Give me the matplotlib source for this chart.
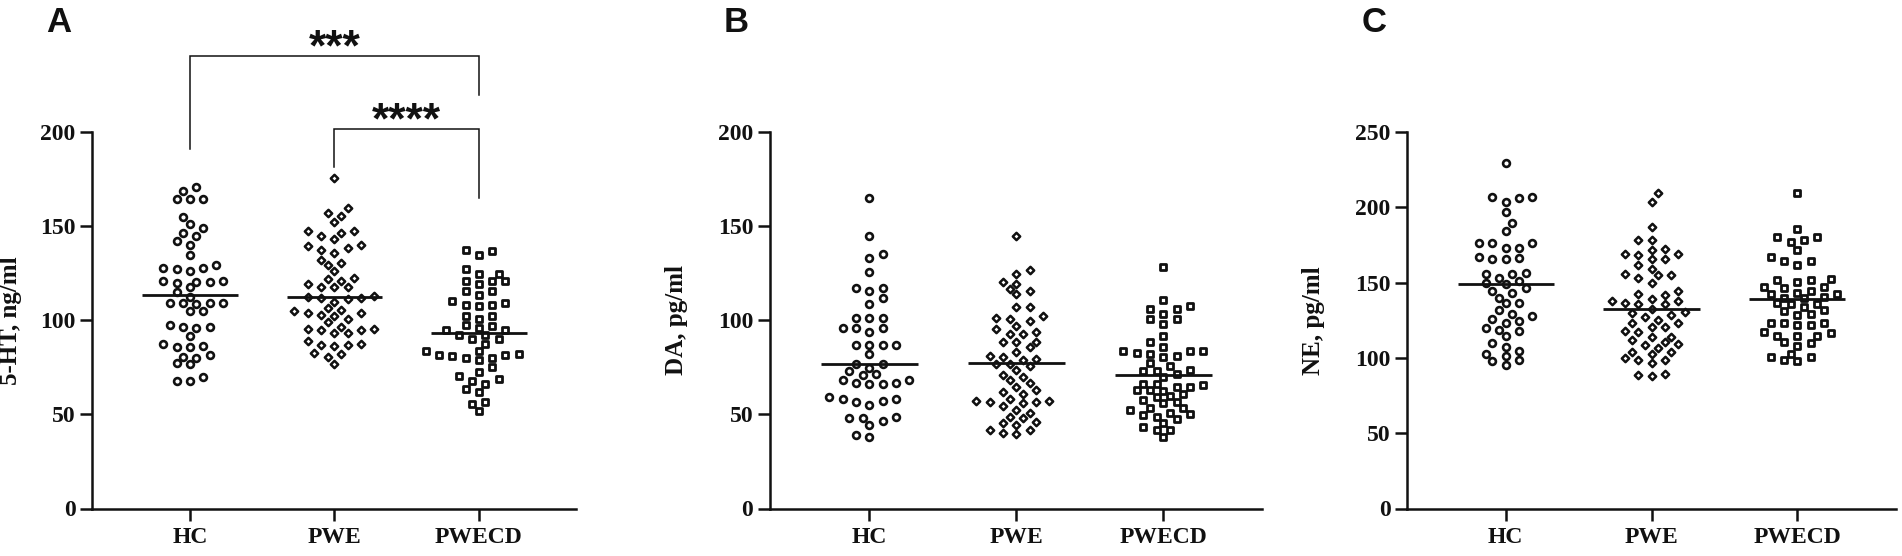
import matplotlib
matplotlib.use("Agg")
import matplotlib.pyplot as plt
import numpy as np

# ---------------- data ----------------
categories = ["HC", "PWE", "PWECD"]

ht5_hc = [170.9, 168.8, 164.6, 164.3, 164.6, 155.0, 151.3, 148.8, 146.4, 144.6, 142.3, 140.2,
          134.8, 127.7, 127.3, 126.3, 127.7, 129.5, 120.9, 120.0, 120.5, 120.5, 117.5, 120.9,
          114.8, 112.5, 108.6, 109.3, 108.9, 109.3, 109.3, 105.0, 105.0, 96.4, 97.3, 95.9, 96.3,
          91.4, 85.7, 87.5, 86.1, 85.7, 80.4, 81.3, 80.0, 77.3, 76.8, 67.5, 70.0, 67.9]
ht5_pwe = [175.5, 159.5, 155.4, 157.1, 152.3, 147.3, 146.4, 147.3, 144.6, 142.9, 140.2, 138.4,
           139.3, 137.5, 135.7, 132.1, 130.4, 129.1, 125.9, 121.8, 120.9, 122.3, 119.1, 117.5,
           117.9, 117.5, 112.0, 111.5, 113.0, 111.8, 112.6, 109.5, 102.3, 103.6, 103.6, 104.8,
           105.4, 106.6, 100.9, 102.7, 95.5, 93.4, 95.0, 96.4, 93.2, 95.0, 95.5, 99.1, 86.6, 87.0,
           86.3, 87.5, 88.9, 82.7, 82.1, 80.4, 76.8]
ht5_pwecd = [137.5, 134.8, 137.0, 127.3, 124.5, 124.5, 120.9, 120.9, 120.9, 119.1, 115.5, 115.5,
             113.4, 108.9, 107.7, 108.0, 108.0, 110.2, 102.3, 102.3, 100.5, 97.3, 95.9, 96.9,
             94.7, 92.3, 94.7, 92.0, 90.2, 90.2, 87.5, 83.4, 83.4, 81.4, 81.4, 79.7, 79.7, 78.8,
             80.9, 81.9, 75.0, 72.7, 68.8, 70.5, 66.0, 67.9, 63.4, 62.0, 56.6, 55.4, 51.9]

da_hc = [165.1, 144.9, 133.3, 135.1, 125.4, 117.2, 117.2, 115.8, 111.6, 108.8, 101.1, 101.1,
         101.4, 96.1, 93.5, 95.8, 96.1, 87.0, 87.0, 87.0, 87.0, 82.1, 76.8, 76.8, 74.6, 73.0,
         71.6, 70.7, 66.3, 66.8, 68.4, 66.8, 68.1, 66.3, 58.1, 56.7, 59.3, 54.9, 57.2, 58.1,
         46.7, 48.4, 44.4, 48.2, 48.2, 38.2, 38.8]
da_pwe = [144.9, 126.5, 124.7, 120.2, 116.6, 119.5, 115.4, 113.7, 107.0, 107.0, 102.3, 101.4,
          99.6, 100.5, 95.3, 97.0, 93.5, 92.9, 92.6, 88.7, 88.2, 85.6, 88.2, 82.9, 81.2, 80.7,
          79.5, 78.9, 76.8, 76.8, 75.5, 73.7, 69.8, 71.0, 64.5, 66.6, 68.1, 62.8, 61.9, 60.7,
          58.4, 54.4, 56.6, 57.2, 56.6, 57.2, 55.8, 52.3, 50.8, 48.7, 47.9, 44.4, 39.6, 41.7,
          45.3, 40.3, 46.1, 41.7]
da_pwecd = [128.1, 111.0, 107.5, 103.1, 98.2, 105.8, 100.8, 105.8, 100.8, 91.4, 88.2, 83.5,
            83.5, 85.9, 80.3, 81.2, 77.2, 82.1, 82.5, 83.5, 73.7, 73.3, 75.9, 71.6, 73.3, 69.8,
            66.3, 64.5, 60.7, 56.6, 53.2, 50.2, 62.8, 59.3, 55.8, 52.3, 48.7, 45.3, 41.7, 38.2,
            65.9, 62.5, 49.6, 43.5, 65.4, 57.5, 53.2, 47.4, 41.7, 64.5, 59.6, 50.6, 63.2]

ne_hc = [229.5, 206.7, 203.4, 207.1, 206.0, 196.6, 189.5, 184.0, 176.3, 173.0, 173.0, 176.3,
         176.3, 166.4, 166.0, 166.0, 167.1, 153.2, 155.9, 151.0, 156.5, 155.4, 148.8, 146.6,
         149.9, 140.0, 143.3, 144.4, 136.7, 136.3, 131.9, 127.9, 125.7, 124.6, 129.0, 123.5,
         118.7, 119.8, 117.6, 114.8, 109.9, 107.5, 101.5, 95.4, 97.8, 102.7, 98.3, 104.4]
ne_pwe = [209.3, 203.8, 186.9, 178.1, 178.5, 172.6, 171.9, 169.1, 168.2, 169.1, 165.8, 165.8,
          162.0, 158.7, 155.0, 152.8, 155.0, 155.4, 149.9, 144.4, 141.8, 142.2, 136.1, 136.7,
          137.8, 138.9, 136.1, 137.8, 128.4, 122.9, 117.4, 112.1, 106.6, 99.9, 132.8, 127.3,
          120.2, 114.1, 108.8, 102.6, 96.5, 130.8, 125.3, 120.2, 114.1, 109.2, 103.7, 98.7,
          130.1, 122.9, 117.6, 110.3, 103.7, 98.7, 87.7, 89.5, 88.4]
ne_pwecd = [209.8, 185.8, 180.3, 180.3, 177.0, 178.1, 171.9, 164.2, 164.2, 161.6, 167.1, 152.6,
            151.5, 151.5, 150.6, 147.3, 147.3, 146.6, 143.3, 142.2, 144.4, 140.0, 139.6, 142.2,
            140.5, 136.3, 136.1, 136.1, 131.7, 131.2, 133.9, 129.0, 128.4, 123.5, 122.0, 122.0,
            123.5, 123.5, 116.3, 116.9, 114.7, 114.7, 109.7, 108.1, 110.3, 114.7, 102.7, 97.8,
            100.4, 98.9, 100.4]

ht5_center = [113.4, 112.5, 93.4]
da_center = [76.6, 77.2, 71.0]
ne_center = [148.8, 132.8, 139.0]

ht5_ticks = [0, 50, 100, 150, 200]
da_ticks = [0, 50, 100, 150, 200]
ne_ticks = [0, 50, 100, 150, 200, 250]

# significance brackets for panel A: (group i, group j, bar level, leg i end, leg j end, label)
sig_pairs = [(0, 2, 240.5, 191.1, 219.6, "***"),
             (1, 2, 201.8, 181.3, 164.8, "****")]

# ---------------- figure ----------------
W, H = 1902, 556
fig = plt.figure(figsize=(W / 100, H / 100), dpi=100)

SERIF = ["Liberation Serif", "DejaVu Serif"]
SANS = ["Liberation Sans", "DejaVu Sans"]
INK = "#111111"

Y0_PX, Y1_PX = 508.5, 132.0   # pixel rows of axis bottom / top (from image top)

panels = [
    dict(letter="A", ylabel="5-HT, ng/ml", groups=[ht5_hc, ht5_pwe, ht5_pwecd],
         centers=ht5_center, ticks=ht5_ticks, left=92.3, spacing=144.5, lab_off=70.0),
    dict(letter="B", ylabel="DA, pg/ml", groups=[da_hc, da_pwe, da_pwecd],
         centers=da_center, ticks=da_ticks, left=770.0, spacing=147.0, lab_off=82.0),
    dict(letter="C", ylabel="NE, pg/ml", groups=[ne_hc, ne_pwe, ne_pwecd],
         centers=ne_center, ticks=ne_ticks, left=1407.3, spacing=145.8, lab_off=82.0),
]

markers = [dict(marker="o", s=24.0, lw=1.9),
           dict(marker="D", s=14.0, lw=1.8),
           dict(marker="s", s=24.0, lw=2.0)]

XL = (-0.675, 2.675)


def swarm_offsets(ax, vals, xpos, step_px=6.65, dmin=8.5):
    """Beeswarm-like horizontal offsets computed in pixel space."""
    vals = np.asarray(vals, float)
    pts = ax.transData.transform(np.column_stack([np.full(len(vals), xpos), vals]))
    ypx = pts[:, 1]
    px_per_x = ax.transData.transform((1, 0))[0] - ax.transData.transform((0, 0))[0]
    order = np.argsort(vals, kind="stable")
    placed_x, placed_y = [], []
    off = np.zeros(len(vals))
    balance = 0.0
    for i in order:
        y = ypx[i]
        chosen = None
        for k in range(0, 60):
            if k == 0:
                cands = [0.0]
            else:
                cands = [-k * step_px, k * step_px] if balance >= 0 else [k * step_px, -k * step_px]
            for c in cands:
                ok = True
                for px, py in zip(placed_x, placed_y):
                    if abs(py - y) < dmin and (px - c) ** 2 + (py - y) ** 2 < dmin ** 2:
                        ok = False
                        break
                if ok:
                    chosen = c
                    break
            if chosen is not None:
                break
        placed_x.append(chosen)
        placed_y.append(y)
        balance += chosen
        off[i] = chosen / px_per_x
    return off


for p in panels:
    width = (XL[1] - XL[0]) * p["spacing"]
    rect = [p["left"] / W, (H - Y0_PX) / H, width / W, (Y0_PX - Y1_PX) / H]
    ax = fig.add_axes(rect)
    ymax = p["ticks"][-1]
    ax.set_xlim(*XL)
    ax.set_ylim(0, ymax)

    for gi, vals in enumerate(p["groups"]):
        off = swarm_offsets(ax, vals, gi)
        m = markers[gi]
        ax.scatter(gi + off, vals, marker=m["marker"], s=m["s"], facecolors="white",
                   edgecolors=INK, linewidths=m["lw"], zorder=3, clip_on=False)
        ax.plot([gi - 0.33, gi + 0.33], [p["centers"][gi]] * 2, color=INK, lw=2.0,
                zorder=4, solid_capstyle="butt")

    for side in ("top", "right"):
        ax.spines[side].set_visible(False)
    for side in ("left", "bottom"):
        ax.spines[side].set_linewidth(1.8)
        ax.spines[side].set_color(INK)

    ax.set_xticks(range(len(categories)))
    ax.set_xticklabels(categories)
    ax.set_yticks(p["ticks"])
    ax.tick_params(axis="both", direction="out", length=8.5, width=1.8, color=INK)
    ax.tick_params(axis="x", pad=4.5)
    ax.tick_params(axis="y", pad=3.5)
    for lab in ax.get_xticklabels() + ax.get_yticklabels():
        lab.set_fontfamily(SERIF)
        lab.set_fontweight("bold")
        lab.set_fontsize(17)
        lab.set_color(INK)

    ax.set_ylabel(p["ylabel"], fontfamily=SERIF, fontweight="bold", fontsize=18, color=INK)
    ax.yaxis.set_label_coords(-p["lab_off"] / width, 0.5)

    fig.text((p["left"] - 33.5) / W, 1 - 22.5 / H, p["letter"], fontfamily=SANS,
             fontweight="bold", fontsize=25, ha="center", va="center", color=INK)

    if p["letter"] == "A":
        for (i, j, level, yi, yj, label) in sig_pairs:
            ax.plot([i, i, j, j], [yi, level, level, yj], color=INK, lw=1.1,
                    clip_on=False, solid_joinstyle="miter")
            ax.text((i + j) / 2, level - 7.5, label, fontfamily=SANS, fontweight="bold",
                    fontsize=32, ha="center", va="bottom", color=INK, clip_on=False)

fig.savefig("out.png", dpi=100)
